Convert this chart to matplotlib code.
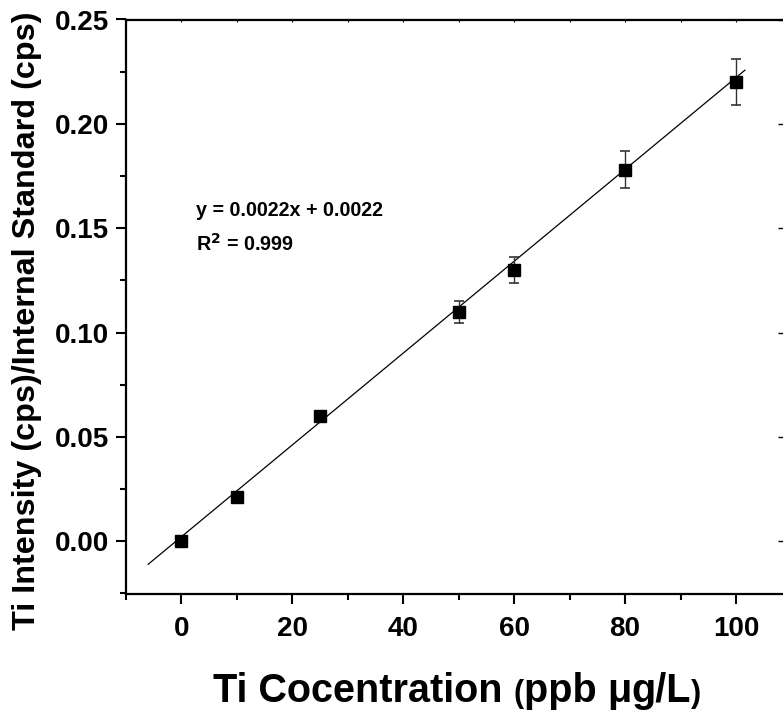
import numpy as np
import matplotlib
matplotlib.use("Agg")
import matplotlib.pyplot as plt
from matplotlib.ticker import MultipleLocator, FormatStrFormatter

plt.rcParams['font.family'] = ['Liberation Sans', 'DejaVu Sans']

conc = [0, 10, 25, 50, 60, 80, 100]
ratio = [0.000, 0.021, 0.060, 0.110, 0.130, 0.178, 0.220]
err = [0.0005, 0.0012, 0.0020, 0.0053, 0.0062, 0.0089, 0.0109]
slope, intercept = 0.0022, 0.0022
fit_range = [-6, 101.6]
ylabel = "Ti Intensity (cps)/Internal Standard (cps)"
eq_text = "y = 0.0022x + 0.0022"
r2_text = "R$^{\\mathbf{2}}$ = 0.999"
# x label pieces: (text, fontsize)
xlabel_parts = [("Ti Cocentration ", 28.5), ("(", 22), ("ppb ", 28.5),
                ("\u03bc", 28.5), ("g/L", 28.5), (")", 22)]

fig = plt.figure(figsize=(7.83, 7.15), dpi=100)
ax = fig.add_axes([126/783, (715-593.5)/715, (791.5-126)/783, (593.5-19.5)/715])

ax.errorbar(conc, ratio, yerr=err, fmt='s', color='black', ms=8.5,
            ecolor='#333333', elinewidth=1.0, capsize=3.8, capthick=1.2, zorder=3)
xf = np.array(fit_range)
ax.plot(xf, slope*xf + intercept, color='black', lw=0.9, zorder=2)

ax.set_xlim(-10, 110)
ax.set_ylim(-0.025, 0.25)
ax.xaxis.set_major_locator(MultipleLocator(20))
ax.xaxis.set_minor_locator(MultipleLocator(10))
ax.yaxis.set_major_locator(MultipleLocator(0.05))
ax.yaxis.set_minor_locator(MultipleLocator(0.025))
ax.yaxis.set_major_formatter(FormatStrFormatter('%.2f'))

for s in ax.spines.values():
    s.set_linewidth(1.6)

ax.tick_params(axis='both', which='major', direction='out', length=7, width=1.5,
               labelsize=20, top=False, right=False)
ax.tick_params(axis='x', which='major', pad=9)
ax.tick_params(axis='y', which='major', pad=5)
ax.tick_params(axis='both', which='minor', direction='out', length=4, width=1.5,
               top=False, right=False)
for lab in ax.get_xticklabels() + ax.get_yticklabels():
    lab.set_fontweight('bold')

axt = ax.secondary_xaxis('top')
axt.set_xticks(np.arange(-10, 111, 10))
axt.tick_params(direction='in', length=2, width=0.8, labeltop=False)
axt.set_xticklabels([])
axr = ax.secondary_yaxis('right')
axr.set_yticks(np.arange(0, 0.26, 0.05))
axr.tick_params(direction='in', length=10, width=1.0)
axr.set_yticklabels([])

ax.text((196-126)/665.5, (593.5-211)/574, eq_text, transform=ax.transAxes,
        fontsize=14.2, fontweight='bold', va='center', ha='left')
ax.text((196-126)/665.5, (593.5-243.5)/574, r2_text, transform=ax.transAxes,
        fontsize=14.2, fontweight='bold', va='center', ha='left')

fig.text(27/783, 1 - 321/715, ylabel, rotation=90, fontsize=23.3,
         fontweight='bold', ha='center', va='center')

# x label assembled from pieces on a common baseline
fig.canvas.draw()
renderer = fig.canvas.get_renderer()
x0 = 213
base_y = 715 - 702
for txt, fs in xlabel_parts:
    t = fig.text(x0/783, base_y/715, txt, fontsize=fs, fontweight='bold',
                 ha='left', va='baseline')
    bb = t.get_window_extent(renderer=renderer)
    x0 += bb.width

fig.savefig("out.png", dpi=100)
